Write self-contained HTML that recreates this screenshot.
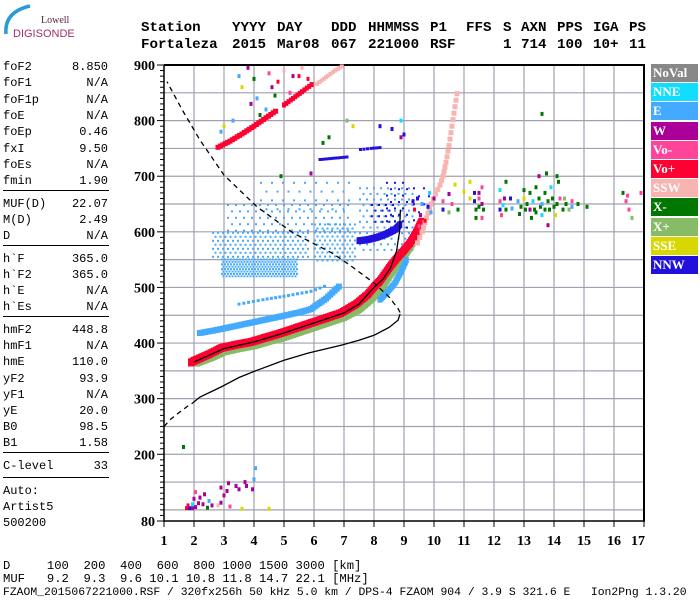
<!DOCTYPE html>
<html><head><meta charset="utf-8"><style>
html,body{margin:0;padding:0;background:#fff;}
body{width:700px;height:600px;overflow:hidden;position:relative;font-family:"Liberation Mono",monospace;}
.hdr{position:absolute;font:bold 14.2px "Liberation Mono",monospace;white-space:pre;color:#000;}
.pl{position:absolute;left:3px;width:105px;font:12px "Liberation Mono",monospace;height:14px;line-height:14px;}
.pl .k{position:absolute;left:0;}
.pl .v{position:absolute;right:0;}
.hr{position:absolute;left:3px;width:106px;height:1px;background:#000;}
.bt{position:absolute;left:3px;font:12.2px "Liberation Mono",monospace;white-space:pre;line-height:14px;}
.lg{position:absolute;left:651px;width:47px;height:18px;color:#fff;font:bold 13px "Liberation Serif",serif;line-height:18px;padding-left:2px;box-sizing:border-box;}
</style></head><body>
<svg style="position:absolute;left:0;top:0" width="140" height="50">
<path d="M6 34 Q4 12 30 6" stroke="#2a9ad8" stroke-width="3.5" fill="none"/>
<text x="41" y="23" font-family="Liberation Serif,serif" font-size="10" fill="#5a2040">Lowell</text>
<text x="13" y="37" font-family="Liberation Sans,sans-serif" font-size="11" fill="#a03070">DIGISONDE</text>
</svg>
<div id="header"></div>
<div id="panel"></div>
<div class="bt" style="top:559px">D     100  200  400  600  800 1000 1500 3000 [km]</div>
<div class="bt" style="top:572px">MUF   9.2  9.3  9.6 10.1 10.8 11.8 14.7 22.1 [MHz]</div>
<div class="bt" style="top:586px;font-size:11.4px">FZAOM_2015067221000.RSF / 320fx256h 50 kHz 5.0 km / DPS-4 FZAOM 904 / 3.9 S 321.6 E   Ion2Png 1.3.20</div>
<div id="legend"></div>
<svg id="chart" style="position:absolute;left:0;top:0" width="700" height="600"></svg>
<script>
const hdrLabels=['Station','YYYY','DAY','DDD','HHMMSS','P1','FFS','S','AXN','PPS','IGA','PS'];
const hdrValues=['Fortaleza','2015','Mar08','067','221000','RSF','','1','714','100','10+','11'];
const hdrX=[141,232,277,331,368,430,466,503,521,557,593,629];
const panelKeys=['foF2','foF1','foF1p','foE','foEp','fxI','foEs','fmin','MUF(D)','M(D)','D','h`F','h`F2','h`E','h`Es','hmF2','hmF1','hmE','yF2','yF1','yE','B0','B1','C-level','Auto:','Artist5','500200'];
const panelVals=['8.850','N/A','N/A','N/A','0.46','9.50','N/A','1.90','22.07','2.49','N/A','365.0','365.0','N/A','N/A','448.8','N/A','110.0','93.9','N/A','20.0','98.5','1.58','33','','',''];
const panelY=[60,76,93,109,125,142,158,174,197,213,229,252,268,284,300,323,339,355,372,388,404,420,436,459,484,500,516];
const panelLines=[190,245,316,452,477];
const legendNames=['NoVal','NNE','E','W','Vo-','Vo+','SSW','X-','X+','SSE','NNW'];
const legendKeys=['n','nne','e','w','vm','vp','ssw','xm','xp','sse','nnw'];
const colors={n:'#888888',nne:'#11ddff',e:'#44aaff',w:'#aa0099',vm:'#ff4499',vp:'#ff0033',ssw:'#f8b4b0',xm:'#007700',xp:'#88bb66',sse:'#d8d800',nnw:'#2211dd'};
const xTicks=[1,2,3,4,5,6,7,8,9,10,11,12,13,14,15,16,17];
const yTicks=[900,800,700,600,500,400,300,200,80];

const oF=[1.9,2.0,2.5,2.9,3.4,3.9,4.4,4.9,5.4,5.9,6.4,6.9,7.4,7.8,8.0,8.2,8.5,8.75,9.0,9.2,9.4,9.6];
const oH=[365,368,380,391,397,402,410,418,427,436,445,454,470,488,501,512,535,552,567,580,598,621];
const xpF=[2.1,2.6,3.0,3.5,4.0,4.5,5.0,5.5,6.0,6.5,7.0,7.5,7.9,8.2,8.45,8.7,8.95,9.15,9.35,9.55];
const xpH=[364,374,384,390,395,403,410,419,428,437,446,460,478,495,515,535,552,568,585,605];
const ebF=[8.2,8.45,8.7,8.9,9.1];
const ebH=[478,492,508,528,552];
const ssF=[9.45,9.6,9.75,9.9,10.05,10.2,10.3,10.4,10.5,10.6,10.7,10.8];
const ssH=[580,600,625,650,668,684,700,725,755,790,825,860];
const u1F=[2.8,3.2,3.6,4.0,4.4,4.8];
const u1H=[752,763,776,790,805,820];
const u2F=[5.0,5.3,5.6,6.0];
const u2H=[828,840,852,868];
const u3F=[6.1,6.4,6.7,7.0];
const u3H=[866,878,890,900];
const eF=[2.2,2.8,3.5,4.2,4.9,5.5,5.9,6.4,6.9];
const eH=[418,424,432,440,448,455,461,480,505];
const e2F=[3.5,4.3,5.0,5.9,6.5];
const e2H=[470,478,484,493,505];
const nnwF=[7.5,7.8,8.1,8.4,8.7,8.9];
const nnwH=[584,586,590,596,604,615];
const nnw2F=[6.2,6.6,7.0,7.2];
const nnw2H=[730,732,734,735];
const nnw3F=[7.55,7.9,8.3];
const nnw3H=[748,750,752];
const blobF0=[2.9,2.6,3.1,6.0,4.2,7.5,8.4,7.9,9.3];
const blobF1=[5.4,5.8,7.2,7.4,7.3,9.3,9.1,8.6,9.9];
const blobH0=[520,550,600,550,640,560,600,615,620];
const blobH1=[552,600,650,615,690,680,690,650,680];
const blobKey=['e','e','e','e','e','e','nnw','nnw','nnw'];
const blobStep=[3,5,8,5,11,7,8,7,10];
const scF=[10.3,10.3,10.5,10.5,10.6,10.7,10.8,11.0,11.2,11.2,11.35,11.35,11.4,11.4,11.5,11.5,11.5,11.6,11.6,11.6,11.65,12.2,12.2,12.2,12.25,12.3,12.35,12.4,12.55,12.6,12.8,12.85,12.9,13.0,13.0,13.05,13.1,13.2,13.2,13.25,13.3,13.35,13.4,13.4,13.5,13.5,13.55,13.6,13.6,13.7,13.7,13.75,13.8,13.8,13.85,13.9,13.95,14.0,14.05,14.1,14.15,14.2,14.3,14.35,14.4,14.5,14.6,14.6,14.8,15.1,13.6,12.4,14.1,16.3,16.4,16.5,16.6,16.9,16.45,
 1.65,1.75,1.85,1.95,2.05,1.8,1.95,2.15,2.3,2.45,2.6,2.0,2.2,2.05,2.35,2.5,2.8,2.9,3.0,2.9,3.1,3.15,3.4,3.5,3.7,3.75,3.95,4.0,4.05,3.2,3.6,4.5,
 3.5,3.6,3.8,4.0,4.1,4.5,4.6,4.8,5.0,5.2,5.3,4.4,4.7,5.5,5.6,5.8,3.3,3.0,2.9,4.2,3.9,6.3,6.5,7.1,7.3,4.9,5.9,
 9.35,9.45,9.55,9.6,9.7,9.8,9.9,9.5,9.65,10.0,9.85,9.3,8.9,8.6,8.2,8.9,9.0];
const scH=[655,640,668,635,650,685,640,672,660,690,670,655,640,625,660,645,670,680,625,650,640,675,655,640,630,648,660,640,660,642,655,632,645,660,675,640,650,640,670,625,655,640,680,635,660,700,645,630,650,640,670,705,655,612,640,680,660,645,630,650,690,660,640,660,650,640,655,645,650,645,812,690,700,670,655,640,625,670,665,
 213,103,103,103,105,108,110,112,110,104,108,120,122,132,128,116,108,113,126,140,134,148,143,137,150,143,137,155,175,106,102,102,
 880,860,895,875,840,885,860,870,890,850,880,820,845,880,895,875,800,790,780,810,830,760,770,800,790,700,705,
 640,660,630,650,620,645,635,610,600,660,670,655,770,785,790,800,775];
const scK=['vm','nnw','w','xp','vm','sse','xm','sse','sse','sse','nnw','nnw','xm','xm','vm','xm','w','vm','vm','w','xm','nne','vm','nnw','vm','nne','w','xm','nnw','e','e','xm','xm','sse','xm','xm','xm','w','xm','xm','nne','xm','xm','xm','xm','w','xm','nne','e','xm','xm','xm','xm','w','xm','nne','xm','xm','sse','xm','xm','vm','xm','xp','xm','xp','vm','e','xm','xm','xm','xm','xm','xm','vm','vm','xp','vm','vm',
 'xm','vp','nnw','w','w','vp','nne','w','w','xm','w','w','w','vm','w','e','ssw','w','w','w','w','w','w','w','w','w','w','e','e','vm','sse','sse',
 'e','sse','w','xm','e','vm','w','vp','ssw','vm','w','e','xm','vp','ssw','vp','e','sse','e','xm','w','xm','xm','xp','sse','xm','w',
 'vp','nnw','w','e','vp','nnw','e','vm','ssw','w','nne','nnw','w','nnw','nnw','nne','nnw'];
const pfF=[1.0,1.2,1.5,1.8,1.95,2.2,2.9,3.5,4.1,5.0,5.8,6.9,7.5,8.0,8.5,8.8,8.87];
const pfH=[250,262,275,287,292,303,321,338,351,369,382,396,405,414,428,441,452];
const udF=[8.87,8.8,8.5,8.0,7.2,6.6,5.3,4.1,3.0,2.2,1.6,1.1];
const udH=[455,462,483,508,540,562,598,645,702,765,820,870];
const fitF=[2.0,2.5,3,3.5,4,4.5,5,5.5,6,6.5,7,7.5,8,8.3,8.55,8.75,8.85,8.88];
const fitH=[366,378,390,396,402,410,418,427,436,445,454,470,500,515,535,565,600,640];

const X=f=>164+(f-1)*30;
const Y=h=>65+(900-h)*0.5561;
const NS='http://www.w3.org/2000/svg';
const svg=document.getElementById('chart');
function mk(tag,name,attrs){const el=document.createElementNS(NS,tag);


for(const k in attrs)el.setAttribute(k,attrs[k]);svg.appendChild(el);return el;}
function rect(x,y,w,h,fill,name){return mk('rect',name,{x:x.toFixed(1),y:y.toFixed(1),width:w,height:h,fill:fill});}

const hdr=document.getElementById('header');
hdrLabels.forEach((l,i)=>{
const a=document.createElement('div');a.className='hdr';a.style.left=hdrX[i]+'px';a.style.top='20px';a.textContent=l;


hdr.appendChild(a);
const b=document.createElement('div');b.className='hdr';b.style.left=hdrX[i]+'px';b.style.top='37px';b.textContent=hdrValues[i];


hdr.appendChild(b);});

const panel=document.getElementById('panel');
panelKeys.forEach((k,i)=>{const d=document.createElement('div');d.className='pl';d.style.top=panelY[i]+'px';


d.innerHTML='<span class="k"></span><span class="v"></span>';d.children[0].textContent=k;d.children[1].textContent=panelVals[i];panel.appendChild(d);});
panelLines.forEach(y=>{const d=document.createElement('div');d.className='hr';d.style.top=y+'px';


panel.appendChild(d);});
const lg=document.getElementById('legend');
legendNames.forEach((n,i)=>{const d=document.createElement('div');d.className='lg';d.style.top=(64+i*19.2)+'px';d.style.background=colors[legendKeys[i]];d.textContent=n;


lg.appendChild(d);});

for(let f=2;f<=16;f++)mk('line','v-gridline',{x1:X(f),x2:X(f),y1:65,y2:521,stroke:'#a0a0b0','stroke-width':1.2});
for(let h=100;h<=850;h+=50)mk('line','h-gridline',{x1:164,x2:644,y1:Y(h),y2:Y(h),stroke:'#a0a0b0','stroke-width':1.2});
mk('line','top-border',{x1:164,x2:645,y1:65,y2:65,stroke:'#000','stroke-width':2});
mk('line','right-border',{x1:644,x2:644,y1:65,y2:521,stroke:'#000','stroke-width':2});
mk('line','y-axis',{x1:164,x2:164,y1:65,y2:522,stroke:'#000','stroke-width':1.5});
mk('line','x-axis',{x1:164,x2:645,y1:521,y2:521,stroke:'#000','stroke-width':1.5});
for(let h=80;h<=900;h+=10){const major=yTicks.includes(h);mk('line','y-tick',{x1:major?157:160,x2:164,y1:Y(h),y2:Y(h),stroke:'#000','stroke-width':1});}
yTicks.forEach(h=>{const t=mk('text','y-tick-label',{x:155,y:Y(h)+5,'text-anchor':'end','font-family':'Liberation Serif,serif','font-size':14,'font-weight':'bold'});t.textContent=h;});
xTicks.forEach(f=>{mk('line','x-tick',{x1:X(f),x2:X(f),y1:521,y2:527,stroke:'#000','stroke-width':1});
const t=mk('text','x-tick-label',{x:X(f)-(f==17?6:0),y:545,'text-anchor':'middle','font-family':'Liberation Serif,serif','font-size':14,'font-weight':'bold'});t.textContent=f;});

function band(F,H,key,w,hh,step,name){for(let i=0;i<F.length-1;i++){const x0=X(F[i]),y0=Y(H[i]),x1=X(F[i+1]),y1=Y(H[i+1]);
const n=Math.max(1,Math.ceil(Math.hypot(x1-x0,y1-y0)/step));for(let j=0;j<n;j++){const t=j/n;rect(x0+(x1-x0)*t-w/2,y0+(y1-y0)*t-hh/2,w,hh,colors[key],name);}}}
for(let b=0;b<blobF0.length;b++){const s=blobStep[b];let row=0;
for(let y=Y(blobH1[b]);y<=Y(blobH0[b]);y+=s*0.8,row++){for(let x=X(blobF0[b])+(row%2)*s/2;x<=X(blobF1[b]);x+=s){rect(x,y,2,2,colors[blobKey[b]],'echo-blob-'+blobKey[b]);}}}
band(eF,eH,'e',6,6,3,'e-band');
band(e2F,e2H,'e',3,3,5,'e-band-upper');
band(nnwF,nnwH,'nnw',5,7,2,'nnw-trace');
band(nnw2F,nnw2H,'nnw',3,3,4,'nnw-trace-730');
band(nnw3F,nnw3H,'nnw',3,3,4,'nnw-trace-750');
band(xpF,xpH,'xp',6,7,2,'x-plus-band');
band(ebF,ebH,'e',5,6,2,'e-band-lower');
band(oF,oH,'vp',6,8,2,'vo-plus-trace');
band(ssF,ssH,'ssw',5,5,7,'ssw-trace');
band(u1F,u1H,'vp',5,5,3,'multihop-trace-1');
band(u2F,u2H,'vp',4,5,3,'multihop-trace-2');
band(u3F,u3H,'ssw',4,4,3,'multihop-trace-3');
for(let i=0;i<scF.length;i++)rect(X(scF[i])-1.5,Y(scH[i])-2,3,4,colors[scK[i]],'echo-point');
function poly(F,H,name,dash){const p=F.map((f,i)=>X(f).toFixed(1)+','+Y(H[i]).toFixed(1)).join(' ');
const a={points:p,fill:'none',stroke:'#000','stroke-width':1.3};if(dash)a['stroke-dasharray']='5,4';mk('polyline',name,a);}
poly(pfF.slice(0,5),pfH.slice(0,5),'profile-dashed-low',true);
poly(pfF.slice(4),pfH.slice(4),'profile-solid',false);
poly(udF,udH,'profile-dashed-upper',true);
poly(fitF,fitH,'fitted-trace',false);
</script>
</body></html>
